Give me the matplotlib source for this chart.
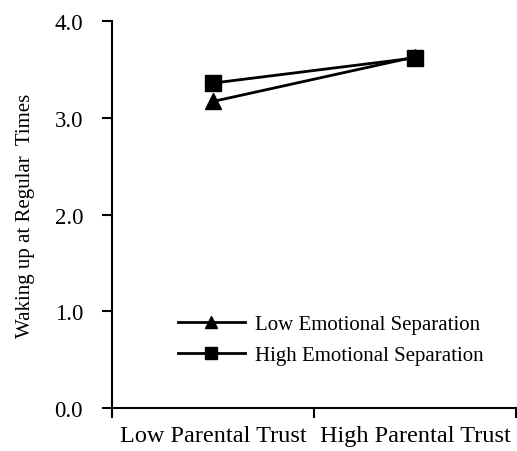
import matplotlib
matplotlib.use("Agg")
import matplotlib.pyplot as plt
from matplotlib.lines import Line2D

categories = ["Low Parental Trust", "High Parental Trust"]
low_sep = [3.17, 3.63]
high_sep = [3.36, 3.62]
yticks = [0, 1, 2, 3, 4]

plt.rcParams['font.family'] = ['Liberation Serif', 'DejaVu Serif']

fig = plt.figure(figsize=(5.17, 4.52), dpi=100)
ax = fig.add_axes([0.217, 0.095, 0.781, 0.856])

x = range(len(categories))
ax.plot(x, low_sep, color='black', lw=2, marker='^', ms=11, clip_on=False)
ax.plot(x, high_sep, color='black', lw=2, marker='s', ms=11, clip_on=False)

ax.set_xlim(-0.5, 1.5)
ax.set_ylim(0, 4)
ax.set_yticks(yticks)
ax.set_yticklabels(["%.1f" % v for v in yticks], fontsize=16.5)
ax.set_xticks([-0.5, 0.5, 1.5])
ax.set_xticklabels([])
ax.set_xticks([0, 1], minor=True)
ax.set_xticklabels(categories, minor=True, fontsize=17.5)
ax.tick_params(axis='x', which='minor', length=0, pad=12)
ax.tick_params(axis='both', which='major', length=7, width=1.5, direction='out')
ax.tick_params(axis='y', pad=14)

for s in ['top', 'right']:
    ax.spines[s].set_visible(False)
for s in ['left', 'bottom']:
    ax.spines[s].set_linewidth(1.5)

ax.set_ylabel("Waking up at Regular  Times", fontsize=15, labelpad=14)

handles = [Line2D([], [], color='black', lw=2, marker='^', ms=8),
           Line2D([], [], color='black', lw=2, marker='s', ms=8)]
ax.legend(handles, ["Low Emotional Separation", "High Emotional Separation"],
          loc='center left', bbox_to_anchor=(0.163, 0.176), frameon=False,
          fontsize=15, handlelength=3.2, handletextpad=0.5, labelspacing=0.56,
          borderpad=0, borderaxespad=0)

fig.savefig("out.png", dpi=100)
